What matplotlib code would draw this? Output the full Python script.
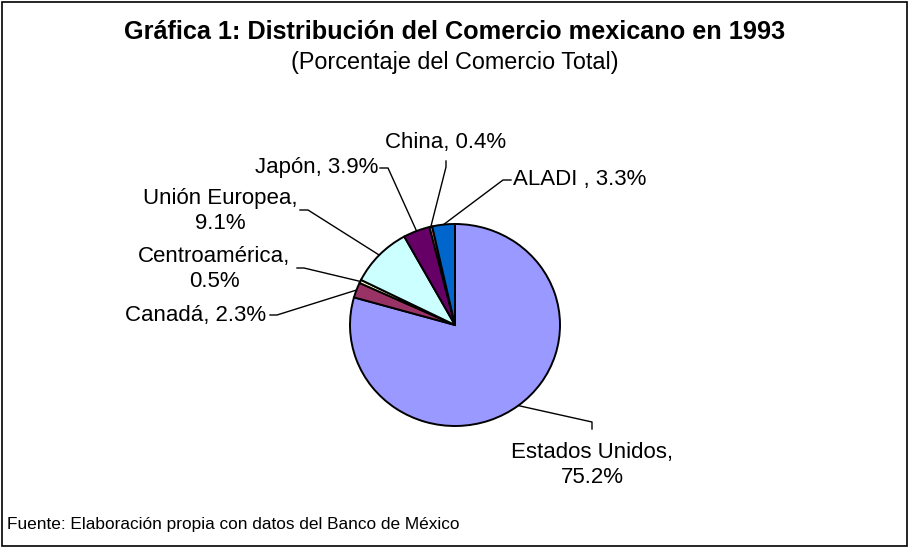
import matplotlib.pyplot as plt
import numpy as np
from matplotlib.lines import Line2D
from matplotlib.patches import Rectangle

plt.rcParams['font.family'] = ['Liberation Sans', 'DejaVu Sans']

paises = ['Estados Unidos', 'Canadá', 'Centroamérica', 'Unión Europea', 'Japón', 'China', 'ALADI ']
porcentajes = [75.2, 2.3, 0.5, 9.1, 3.9, 0.4, 3.3]
colores = ['#9999FF', '#993366', '#FFFFCC', '#CCFFFF', '#660066', '#FF8080', '#0066CC']

W, H = 909, 549
fig = plt.figure(figsize=(W / 100, H / 100), dpi=100)


def frac(x, y):
    # pixel position measured from the top left corner -> figure fraction
    return x / W, 1 - y / H


# the pie sits in its own box, centre (455, 325), a little wider than tall
ax = fig.add_axes([350 / W, 1 - 426 / H, 210 / W, 202 / H])
wedges, _ = ax.pie(porcentajes, colors=colores, startangle=90, counterclock=False,
                   wedgeprops=dict(edgecolor='black', linewidth=1.4))
ax.set_aspect('auto')
ax.set_xlim(-1, 1)
ax.set_ylim(-1, 1)
ax.axis('off')
for w in wedges:
    w.set_clip_on(False)

# label placement: centre/edge of text, alignment, two-line or not, leader bends
posiciones = [
    (592, 465, 'center', True, [(592, 429), (592, 422)]),
    (196, 315, 'center', False, [(270, 315), (277, 315)]),
    (214, 269, 'center', True, [(297, 268), (304, 268)]),
    (220, 211, 'center', True, [(300, 210), (308, 210)]),
    (378, 168, 'right', False, [(380, 168), (388, 168)]),
    (446, 143, 'center', False, [(446, 161), (446, 167)]),
    (513, 180, 'left', False, [(511, 180), (503, 180)]),
]

for w, pais, valor, (tx, ty, ha, dos, pts) in zip(wedges, paises, porcentajes, posiciones):
    sep = '\n' if dos else ' '
    fig.text(*frac(tx, ty), f'{pais},{sep}{valor}%', ha=ha, va='center',
             multialignment='center', fontsize=16, color='black')
    ang = np.deg2rad((w.theta1 + w.theta2) / 2)
    dx, dy = ax.transData.transform((np.cos(ang), np.sin(ang)))
    xs = [p[0] for p in pts] + [dx]
    ys = [p[1] for p in pts] + [H - dy]
    fx = [x / W for x in xs]
    fy = [1 - y / H for y in ys]
    fig.add_artist(Line2D(fx, fy, color='black', linewidth=1.0, transform=fig.transFigure))

fig.text(*frac(454.5, 32), 'Gráfica 1: Distribución del Comercio mexicano en 1993',
         ha='center', va='center', fontsize=18.2, fontweight='bold')
fig.text(*frac(454.5, 63), '(Porcentaje del Comercio Total)',
         ha='center', va='center', fontsize=16.8)
fig.text(*frac(7, 524), 'Fuente: Elaboración propia con datos del Banco de México',
         ha='left', va='center', fontsize=12.4)

# chart frame
fig.add_artist(Rectangle((1.5 / W, 3 / H), 905 / W, 544.5 / H, transform=fig.transFigure,
                         fill=False, edgecolor='black', linewidth=1.2))

fig.savefig('out.png', dpi=100)
